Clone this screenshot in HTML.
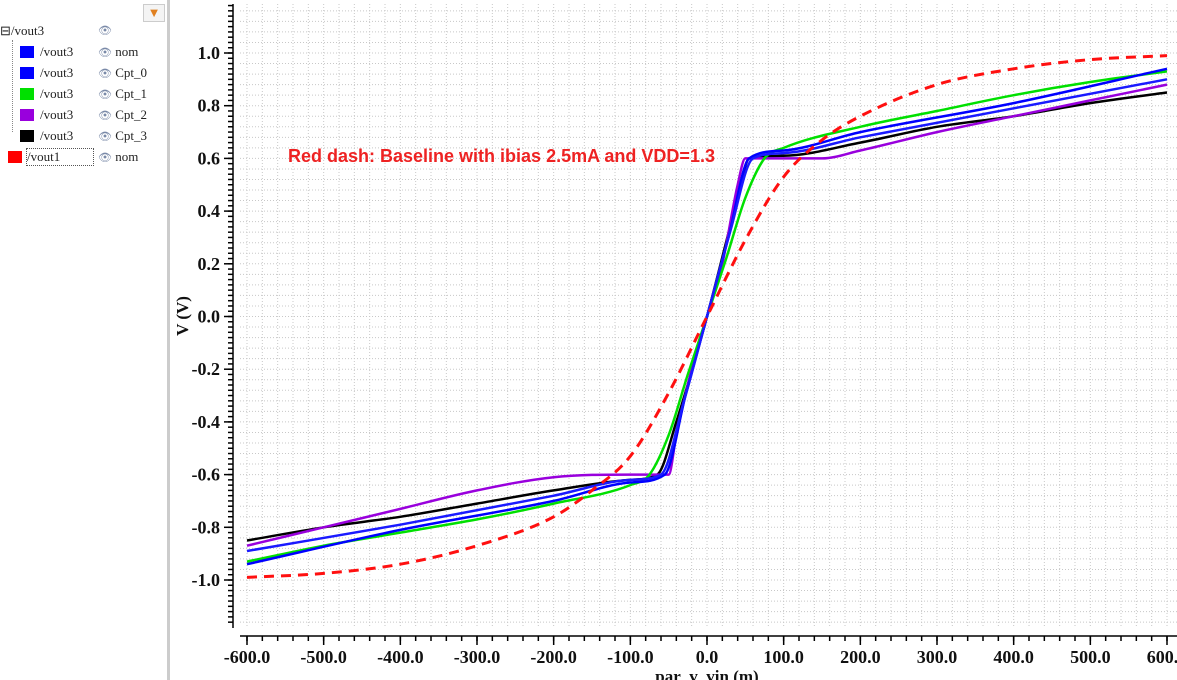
<!DOCTYPE html>
<html><head><meta charset="utf-8"><style>
body{margin:0;width:1177px;height:680px;overflow:hidden;background:#fff;font-family:"Liberation Serif",serif}
#panel{position:absolute;left:0;top:0;width:167px;height:680px;border-right:3px solid #ccc;background:#fff}
.row{position:absolute;font-size:13px;color:#222;height:18px;line-height:18px}
.sw{position:absolute;width:14px;height:12px}
.eye{position:absolute;color:#7a8aa8;font-size:11px}
svg{position:absolute;left:0;top:0}
</style></head><body>
<div id="panel">
 <div style="position:absolute;left:143px;top:4px;width:20px;height:16px;border:1px solid #ccc;background:#f4f4f4;color:#e08020;font-size:13px;text-align:center;line-height:16px">▼</div>
 <div class="row" style="left:0;top:22px">⊟/vout3</div>
 <div class="eye" style="left:98px;top:24px">👁</div>
 <div style="position:absolute;left:12px;top:40px;width:1px;height:92px;border-left:1px dotted #888"></div>
 <div class="row" style="left:20px;top:43px"><span class="sw" style="left:0;top:3px;background:#0000ff"></span><span style="position:absolute;left:20px">/vout3</span></div>
 <div class="row" style="left:98px;top:43px"><span style="color:#7a8aa8;font-size:11px">👁</span> nom</div>
 <div class="row" style="left:20px;top:64px"><span class="sw" style="left:0;top:3px;background:#0000ff"></span><span style="position:absolute;left:20px">/vout3</span></div>
 <div class="row" style="left:98px;top:64px"><span style="color:#7a8aa8;font-size:11px">👁</span> Cpt_0</div>
 <div class="row" style="left:20px;top:85px"><span class="sw" style="left:0;top:3px;background:#00e000"></span><span style="position:absolute;left:20px">/vout3</span></div>
 <div class="row" style="left:98px;top:85px"><span style="color:#7a8aa8;font-size:11px">👁</span> Cpt_1</div>
 <div class="row" style="left:20px;top:106px"><span class="sw" style="left:0;top:3px;background:#9900dd"></span><span style="position:absolute;left:20px">/vout3</span></div>
 <div class="row" style="left:98px;top:106px"><span style="color:#7a8aa8;font-size:11px">👁</span> Cpt_2</div>
 <div class="row" style="left:20px;top:127px"><span class="sw" style="left:0;top:3px;background:#000"></span><span style="position:absolute;left:20px">/vout3</span></div>
 <div class="row" style="left:98px;top:127px"><span style="color:#7a8aa8;font-size:11px">👁</span> Cpt_3</div>
 <div class="row" style="left:8px;top:148px"><span class="sw" style="left:0;top:3px;background:#ff0000"></span><span style="position:absolute;left:18px;top:0;width:66px;height:16px;border:1px dotted #555;line-height:16px">/vout1</span></div>
 <div class="row" style="left:98px;top:148px"><span style="color:#7a8aa8;font-size:11px">👁</span> nom</div>
</div>
<svg id="chart" width="1177" height="680"></svg>
<script>
const xTicks=[-600,-500,-400,-300,-200,-100,0,100,200,300,400,500,600];
const yTicks=[-1.0,-0.8,-0.6,-0.4,-0.2,0.0,0.2,0.4,0.6,0.8,1.0];
const xNom=[-600,-400,-200,-100,-60,-30,0,30,60,100,200,400,600];
const yNom=[-0.89,-0.79,-0.68,-0.62,-0.6,-0.32,0,0.32,0.6,0.62,0.68,0.79,0.9];
const xC0=[-600,-400,-200,-100,-55,-28,0,28,55,100,200,400,600];
const yC0=[-0.94,-0.81,-0.70,-0.63,-0.6,-0.3,0,0.3,0.6,0.63,0.70,0.81,0.94];
const xC1=[-600,-500,-400,-300,-200,-100,-75,-50,-25,0,25,50,75,100,200,300,400,500,600];
const yC1=[-0.93,-0.87,-0.82,-0.77,-0.71,-0.64,-0.6,-0.45,-0.22,0,0.22,0.45,0.6,0.64,0.72,0.78,0.84,0.89,0.93];
const xC2=[-600,-500,-400,-300,-200,-100,-50,-40,-20,0,20,40,50,100,150,200,300,400,500,600];
const yC2=[-0.87,-0.8,-0.73,-0.66,-0.61,-0.6,-0.6,-0.45,-0.2,0,0.2,0.5,0.6,0.6,0.6,0.63,0.7,0.76,0.82,0.88];
const xC3=[-600,-500,-400,-300,-200,-100,-65,-40,0,40,55,100,200,300,400,500,600];
const yC3=[-0.85,-0.8,-0.76,-0.71,-0.66,-0.62,-0.6,-0.4,0,0.45,0.6,0.61,0.66,0.72,0.76,0.81,0.85];
const xRed=[-600,-500,-400,-300,-200,-150,-100,-50,0,50,100,150,200,300,400,500,600];
const yRed=[-0.99,-0.975,-0.94,-0.87,-0.76,-0.66,-0.53,-0.29,0,0.29,0.53,0.67,0.76,0.88,0.94,0.975,0.99];

const NS='http://www.w3.org/2000/svg';
const svg=document.getElementById('chart');
const X=v=>707+v*920/1200;
const Y=v=>316.5-v*263.5;
function mk(tag,attrs,parent){const e=document.createElementNS(NS,tag);for(const k in attrs)e.setAttribute(k,attrs[k]);(parent||svg).appendChild(e);return e;}
const grid=mk('g',{stroke:'#c8c8c8','stroke-width':1,'stroke-dasharray':'1,2'});


for(let v=-600;v<=600;v+=20){mk('line',{x1:X(v),x2:X(v),y1:4,y2:628},grid);}
for(let v=-1.16;v<=1.2;v+=0.04){mk('line',{x1:240,x2:1177,y1:Y(v),y2:Y(v)},grid);}
const ya=mk('g',{stroke:'#000','stroke-width':1.5});


mk('line',{x1:233,x2:233,y1:4,y2:628},ya);
for(let v=-1.16;v<=1.2;v+=0.02){mk('line',{x1:228,x2:233,y1:Y(v),y2:Y(v)},ya);}
yTicks.forEach(v=>{mk('line',{x1:224,x2:233,y1:Y(v),y2:Y(v)},ya);
 const t=mk('text',{x:220,y:Y(v)+6,'text-anchor':'end','font-size':18,'font-weight':'bold','font-family':'Liberation Serif, serif',stroke:'none',fill:'#111'},ya);t.textContent=v.toFixed(1);
 
 });
const yt=mk('text',{x:0,y:0,transform:'translate(188,316) rotate(-90)','text-anchor':'middle','font-size':17,'font-weight':'bold','font-family':'Liberation Serif, serif',fill:'#111'});yt.textContent='V (V)';


const xa=mk('g',{stroke:'#000','stroke-width':1.5});


mk('line',{x1:240,x2:1177,y1:636,y2:636},xa);
for(let v=-600;v<=600;v+=20){mk('line',{x1:X(v),x2:X(v),y1:636,y2:641},xa);}
xTicks.forEach(v=>{mk('line',{x1:X(v),x2:X(v),y1:636,y2:645},xa);
 const t=mk('text',{x:X(v),y:663,'text-anchor':'middle','font-size':18,'font-weight':'bold','font-family':'Liberation Serif, serif',stroke:'none',fill:'#111'},xa);t.textContent=v.toFixed(1);
 
 });
const xt=mk('text',{x:707,y:682,'text-anchor':'middle','font-size':17,'font-weight':'bold','font-family':'Liberation Serif, serif',fill:'#111'});xt.textContent='par_v_vin (m)';


// monotone cubic path
function monoPath(xs,ys){
 const px=xs.map(X),py=ys.map(Y),n=px.length;
 const d=[],m=[];
 for(let i=0;i<n-1;i++)d.push((py[i+1]-py[i])/(px[i+1]-px[i]));
 m[0]=d[0];m[n-1]=d[n-2];
 for(let i=1;i<n-1;i++){m[i]=(d[i-1]*d[i]<=0)?0:(d[i-1]+d[i])/2;}
 for(let i=0;i<n-1;i++){if(d[i]===0){m[i]=0;m[i+1]=0;continue;}
  const a=m[i]/d[i],b=m[i+1]/d[i],s=a*a+b*b;if(s>9){const t=3/Math.sqrt(s);m[i]=t*a*d[i];m[i+1]=t*b*d[i];}}
 let p='M'+px[0].toFixed(1)+','+py[0].toFixed(1);
 for(let i=0;i<n-1;i++){const h=(px[i+1]-px[i])/3;
  p+='C'+(px[i]+h).toFixed(1)+','+(py[i]+m[i]*h).toFixed(1)+' '+(px[i+1]-h).toFixed(1)+','+(py[i+1]-m[i+1]*h).toFixed(1)+' '+px[i+1].toFixed(1)+','+py[i+1].toFixed(1);}
 return p;
}
function series(xs,ys,color,name,dash){
 const p=mk('path',{d:monoPath(xs,ys),fill:'none',stroke:color,'stroke-width':dash?3:2.5,'stroke-dasharray':dash||'none','stroke-linejoin':'round'});
 
 
}
series(xC3,yC3,'#000','series-cpt3');
series(xC2,yC2,'#9900dd','series-cpt2');
series(xC1,yC1,'#00e000','series-cpt1');
series(xC0,yC0,'#0000ff','series-cpt0');
series(xNom,yNom,'#1a1aff','series-nom');
series(xRed,yRed,'#ff1010','series-vout1-baseline','10,7');
const an=mk('text',{x:288,y:162,'font-size':18,'font-weight':'bold','font-family':'Liberation Sans, sans-serif',fill:'#ee2222'});an.textContent='Red dash: Baseline with ibias 2.5mA and VDD=1.3';


</script>
</body></html>
